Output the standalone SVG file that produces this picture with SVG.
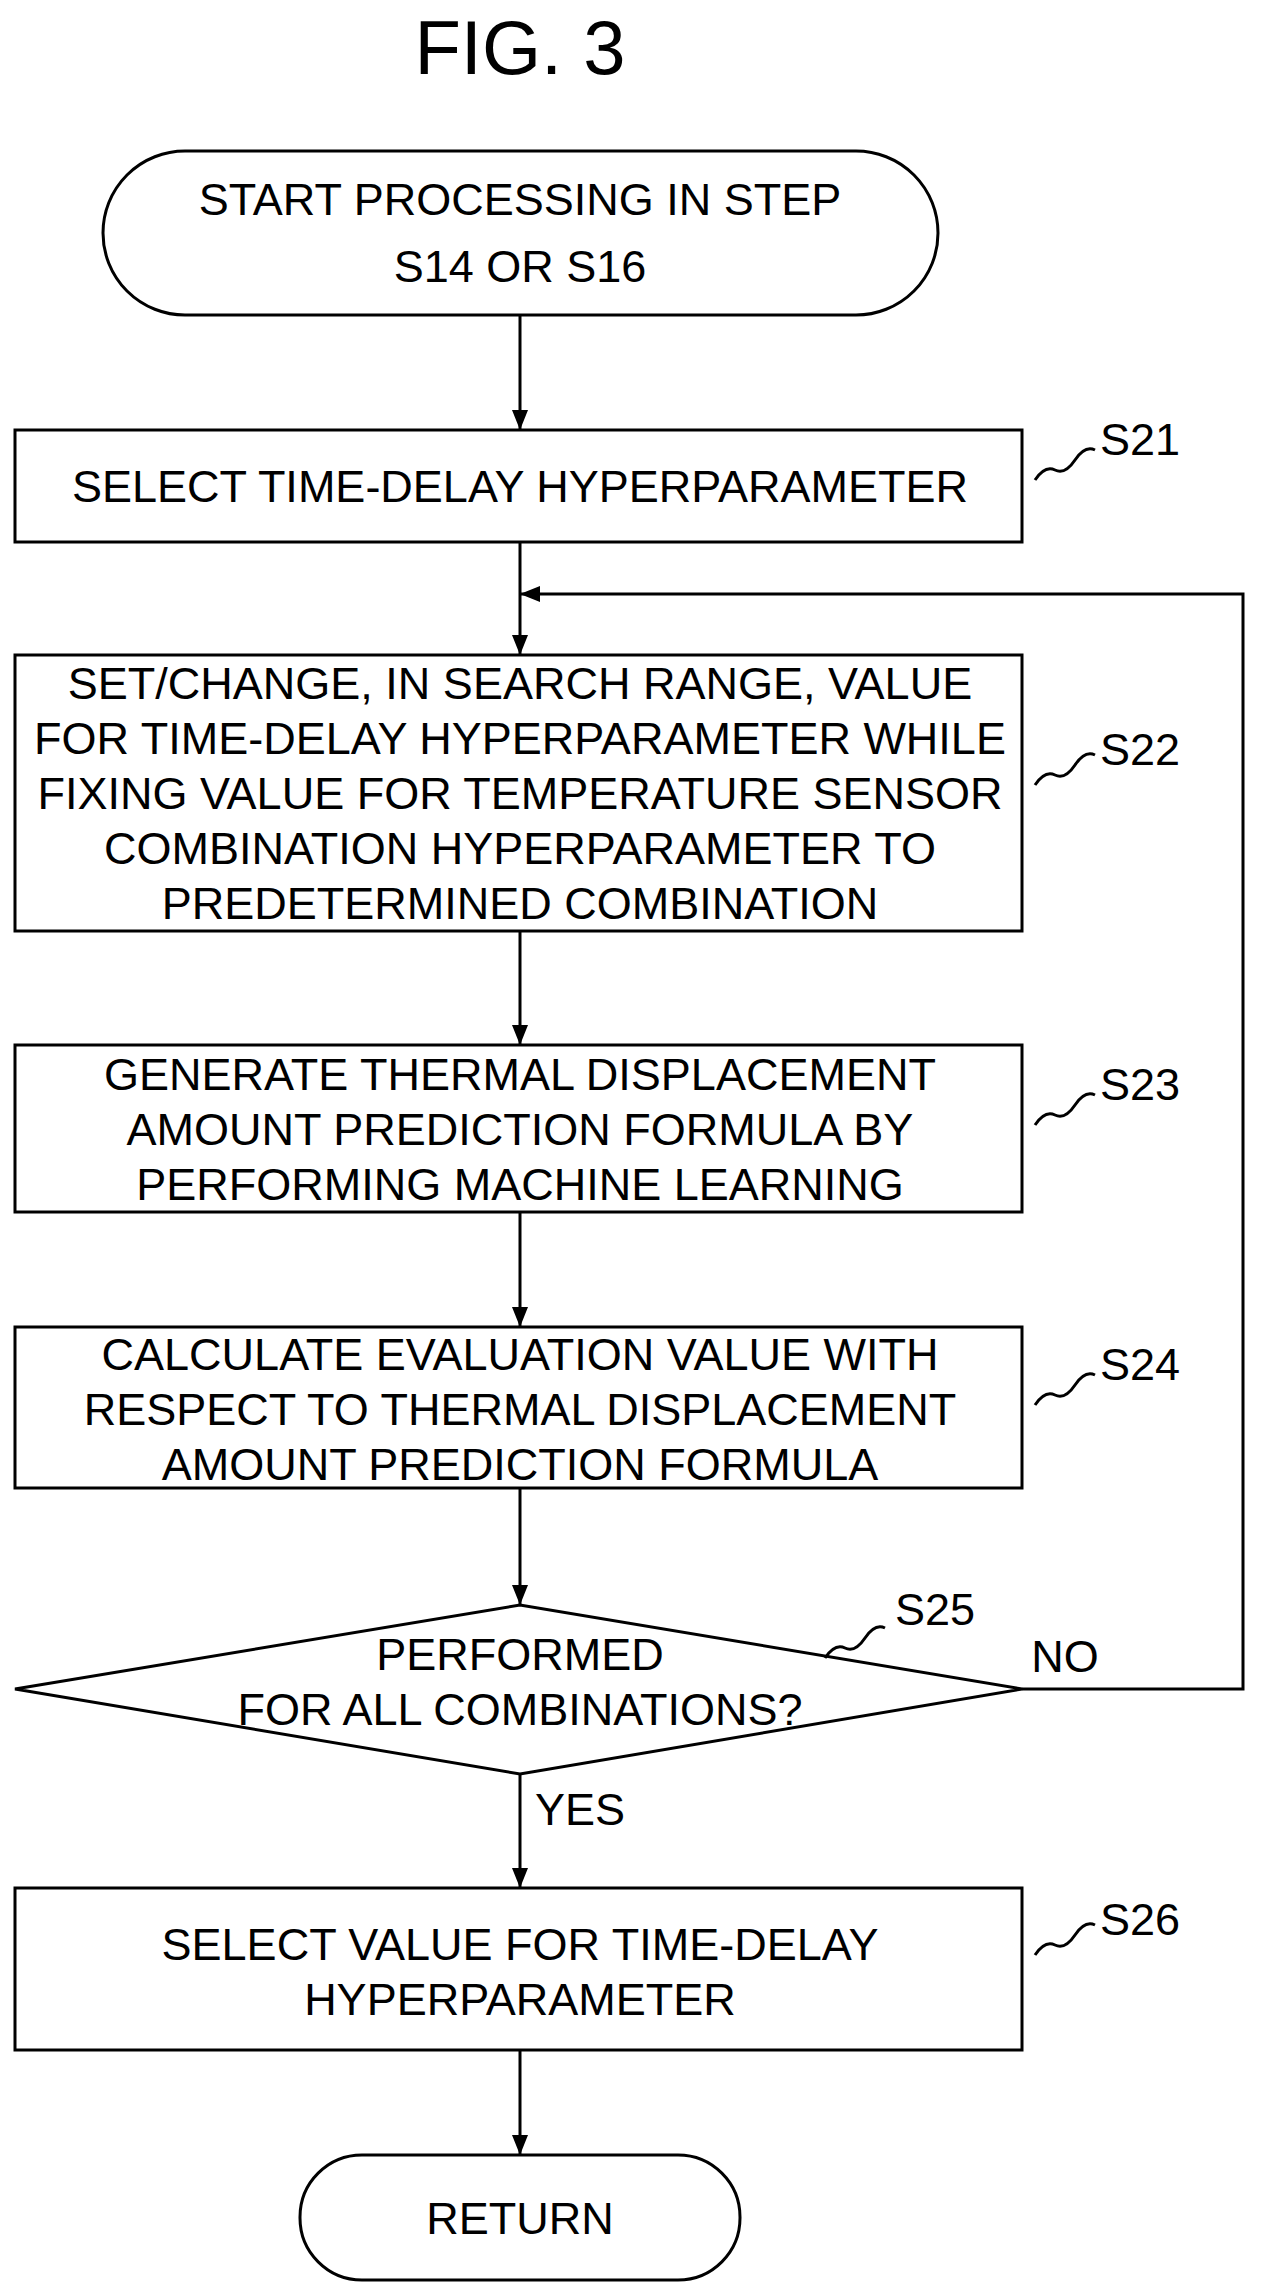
<svg xmlns="http://www.w3.org/2000/svg" width="1261" height="2286" viewBox="0 0 1261 2286">
<style>
.b{fill:#fff;stroke:#000;stroke-width:3}
.l{fill:none;stroke:#000;stroke-width:3}
text{font-family:"Liberation Sans",Arial,sans-serif;font-size:45px;text-anchor:middle;fill:#000}
.s{text-anchor:start}
</style>
<defs>
<marker id="ah" viewBox="0 0 20 20" refX="20" refY="10" markerWidth="20" markerHeight="20" markerUnits="userSpaceOnUse" orient="auto"><path d="M0,2L20,10L0,18z"/></marker></defs>
<text x="520" y="74" style="font-size:76px">FIG. 3</text>
<g id="connectors">
<line class="l" x1="520" y1="315" x2="520" y2="430" marker-end="url(#ah)"/>
<line class="l" x1="520" y1="542" x2="520" y2="655" marker-end="url(#ah)"/>
<polyline class="l" points="1022,1689 1243,1689 1243,594 520,594" marker-end="url(#ah)"/>
<line class="l" x1="520" y1="931" x2="520" y2="1045" marker-end="url(#ah)"/>
<line class="l" x1="520" y1="1212" x2="520" y2="1327" marker-end="url(#ah)"/>
<line class="l" x1="520" y1="1488" x2="520" y2="1605" marker-end="url(#ah)"/>
<line class="l" x1="520" y1="1774" x2="520" y2="1888" marker-end="url(#ah)"/>
<line class="l" x1="520" y1="2050" x2="520" y2="2155" marker-end="url(#ah)"/>
<text x="580" y="1825">YES</text>
<text x="1065" y="1672">NO</text>
</g>
<g id="start"><rect class="b" x="103" y="151" width="835" height="164" rx="82"/>
<text x="520" y="215">START PROCESSING IN STEP</text><text x="520" y="282">S14 OR S16</text></g>
<g id="S21"><rect class="b" x="15" y="430" width="1007" height="112"/>
<text x="520" y="502">SELECT TIME-DELAY HYPERPARAMETER</text>
<path class="l" d="M1035,480 q10,-15 20,-10 t20,-10 t20,-10"/><text class="s" x="1100" y="455">S21</text></g>
<g id="S22"><rect class="b" x="15" y="655" width="1007" height="276"/>
<text x="520" y="699">SET/CHANGE, IN SEARCH RANGE, VALUE</text>
<text x="520" y="754">FOR TIME-DELAY HYPERPARAMETER WHILE</text>
<text x="520" y="809">FIXING VALUE FOR TEMPERATURE SENSOR</text>
<text x="520" y="864">COMBINATION HYPERPARAMETER TO</text>
<text x="520" y="919">PREDETERMINED COMBINATION</text>
<path class="l" d="M1035,785 q10,-15 20,-10 t20,-10 t20,-10"/><text class="s" x="1100" y="765">S22</text></g>
<g id="S23"><rect class="b" x="15" y="1045" width="1007" height="167"/>
<text x="520" y="1090">GENERATE THERMAL DISPLACEMENT</text>
<text x="520" y="1145">AMOUNT PREDICTION FORMULA BY</text>
<text x="520" y="1200">PERFORMING MACHINE LEARNING</text>
<path class="l" d="M1035,1125 q10,-15 20,-10 t20,-10 t20,-10"/><text class="s" x="1100" y="1100">S23</text></g>
<g id="S24"><rect class="b" x="15" y="1327" width="1007" height="161"/>
<text x="520" y="1370">CALCULATE EVALUATION VALUE WITH</text>
<text x="520" y="1425">RESPECT TO THERMAL DISPLACEMENT</text>
<text x="520" y="1480">AMOUNT PREDICTION FORMULA</text>
<path class="l" d="M1035,1405 q10,-15 20,-10 t20,-10 t20,-10"/><text class="s" x="1100" y="1380">S24</text></g>
<g id="S25"><polygon class="b" points="15,1689 520,1605 1022,1689 520,1774"/>
<text x="520" y="1670">PERFORMED</text><text x="520" y="1725">FOR ALL COMBINATIONS?</text>
<path class="l" d="M825,1658 q10,-15 20,-10 t20,-10 t20,-10"/><text class="s" x="895" y="1625">S25</text></g>
<g id="S26"><rect class="b" x="15" y="1888" width="1007" height="162"/>
<text x="520" y="1960">SELECT VALUE FOR TIME-DELAY</text>
<text x="520" y="2015">HYPERPARAMETER</text>
<path class="l" d="M1035,1955 q10,-15 20,-10 t20,-10 t20,-10"/><text class="s" x="1100" y="1935">S26</text></g>
<g id="return"><rect class="b" x="300" y="2155" width="440" height="125" rx="62"/>
<text x="520" y="2234">RETURN</text></g>
</svg>
